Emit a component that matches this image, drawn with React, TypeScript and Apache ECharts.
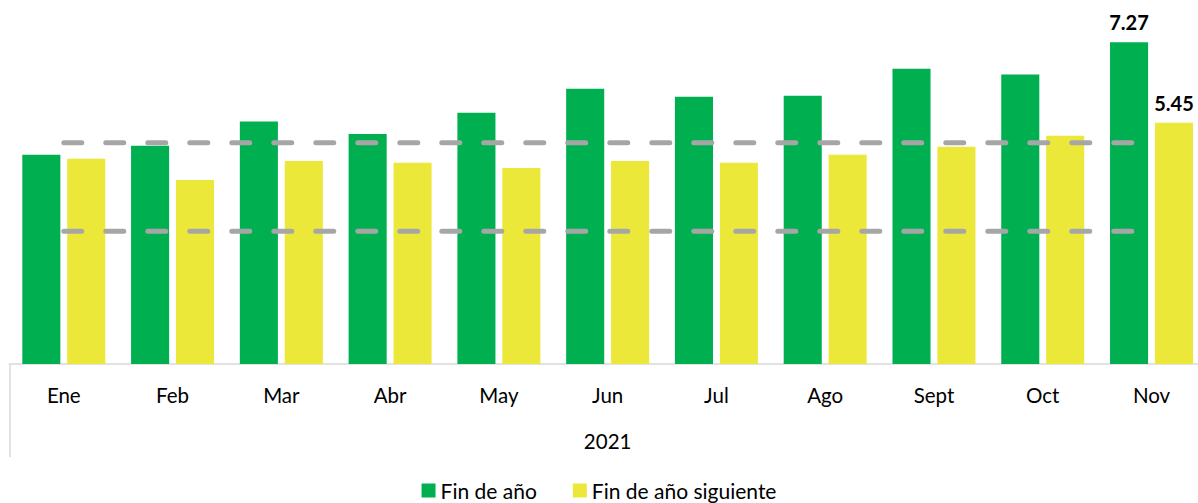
import React, { useEffect, useRef } from "react";
import * as echarts from "echarts";

const categories = ["Ene", "Feb", "Mar", "Abr", "May", "Jun", "Jul", "Ago", "Sept", "Oct", "Nov"];
const yearLabel = ["2021"];
const finDeAno = [4.73, 4.93, 5.48, 5.2, 5.68, 6.22, 6.04, 6.06, 6.67, 6.54, 7.27];
const finDeAnoSiguiente = [4.64, 4.16, 4.59, 4.55, 4.43, 4.59, 4.55, 4.73, 4.91, 5.16, 5.45];
const lowerBand = [3, 3, 3, 3, 3, 3, 3, 3, 3, 3, 3];
const upperBand = [5, 5, 5, 5, 5, 5, 5, 5, 5, 5, 5];
const seriesNames = ["Fin de año", "Fin de año siguiente"];

const GREEN = "#00B050";
const YELLOW = "#EBE83A";
const GREY = "#A6A6A6";
const FONT = "Lato";

export default function App() {
  const ref = useRef<HTMLDivElement>(null);
  useEffect(() => {
    if (!ref.current) return;
    const chart = echarts.init(ref.current, null, { renderer: "svg" });
    const lastLabel = (arr: number[]) =>
      arr.map((v, i) =>
        i === arr.length - 1
          ? { value: v, label: { show: true, position: "top", distance: 10, formatter: "{c}", fontFamily: FONT, fontSize: 20, fontWeight: "bold", color: "#000" } }
          : v
      );
    chart.setOption({
      animation: false,
      textStyle: { fontFamily: FONT },
      grid: { left: 9.4, top: 10, width: 1196.5, height: 354, containLabel: false, outerBoundsMode: "none" },
      legend: {
        data: seriesNames,
        top: 475,
        left: "center",
        icon: "rect",
        itemWidth: 14,
        itemHeight: 14,
        itemGap: 36,
        textStyle: { fontFamily: FONT, fontSize: 21, color: "#000" },
      },
      xAxis: [
        {
          type: "category",
          data: categories,
          position: "bottom",
          axisLine: { show: true, lineStyle: { color: "#D9D9D9", width: 1.5 } },
          axisTick: { show: false },
          axisLabel: { fontFamily: FONT, fontSize: 20.5, color: "#000", margin: 20 },
        },
        {
          type: "category",
          data: yearLabel,
          position: "bottom",
          gridIndex: 0,
          axisLine: { show: false },
          axisTick: { show: true, length: 93, lineStyle: { color: "#D9D9D9", width: 1.5 } },
          axisLabel: { fontFamily: FONT, fontSize: 20.5, color: "#000", margin: 66 },
        },
      ],
      yAxis: {
        type: "value",
        min: 0,
        max: 8,
        show: false,
        splitLine: { show: false },
      },
      series: [
        {
          name: seriesNames[0],
          type: "bar",
          data: lastLabel(finDeAno),
          itemStyle: { color: GREEN },
          barWidth: "35%",
          barGap: "18%",
        },
        {
          name: seriesNames[1],
          type: "bar",
          data: lastLabel(finDeAnoSiguiente),
          itemStyle: { color: YELLOW },
          barWidth: "35%",
          barGap: "18%",
        },
        {
          type: "line",
          data: upperBand,
          symbol: "none",
          z: 5,
          silent: true,
          lineStyle: { color: GREY, width: 5, type: [18, 24], cap: "round" },
        },
        {
          type: "line",
          data: lowerBand,
          symbol: "none",
          z: 5,
          silent: true,
          lineStyle: { color: GREY, width: 5, type: [18, 24], cap: "round" },
        },
      ],
    });
    return () => chart.dispose();
  }, []);
  return (
    <div
      ref={ref}
      style={{ position: "fixed", left: 0, top: 0, width: 1198, height: 503, background: "#fff" }}
    />
  );
}
